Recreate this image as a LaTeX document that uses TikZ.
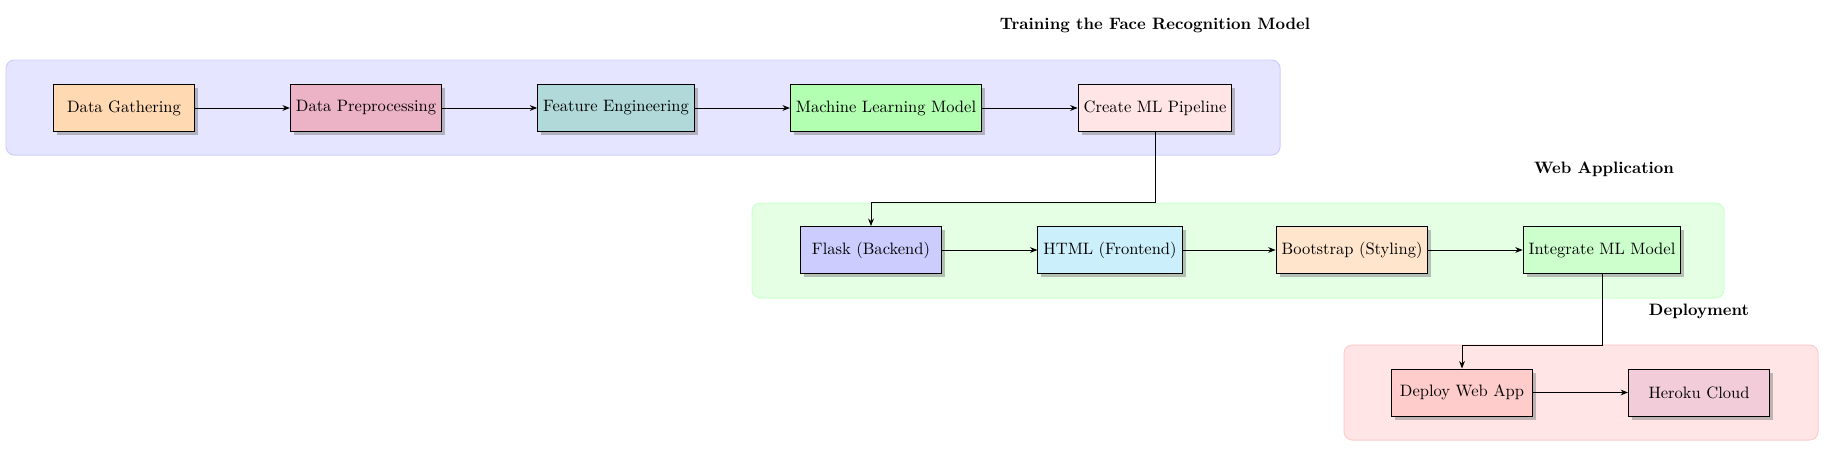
\documentclass[tikz,border=0pt]{standalone}
\usetikzlibrary{shadows,arrows.meta}
\begin{document}
\begin{tikzpicture}[x=0.6053pt,y=-0.6053pt,
  box/.style={draw=black,semithick,minimum width=3cm,minimum height=1cm,inner sep=3.33pt,drop shadow,font=\normalsize},
  conn/.style={semithick,-{Stealth[length=4.5pt,width=3.5pt]}},
  grp/.style={rounded corners=5pt,line width=0.6pt},
  ttl/.style={font=\bfseries}]
\useasboundingbox (0,0) rectangle (1830,450);
% groups
\draw[grp,draw=blue!20,fill=blue!10] (6,60) rectangle (1280,155);
\draw[grp,draw=green!20,fill=green!10] (752,203) rectangle (1724,298);
\draw[grp,draw=red!20,fill=red!10] (1344,345) rectangle (1818,440);
% titles
\node[ttl] (t1) at (1155,25) {Training the Face Recognition Model};
\node[ttl] (t2) at (1604,169) {Web Application};
\node[ttl] (t3) at (1699,311) {Deployment};
% row 1
\node[box,fill=orange!30] (dg) at (124,108) {Data Gathering};
\node[box,fill=purple!30] (dp) at (366,108) {Data Preprocessing};
\node[box,fill=teal!30] (fe) at (616,108) {Feature Engineering};
\node[box,fill=green!30] (ml) at (886,108) {Machine Learning Model};
\node[box,fill=red!10] (pipe) at (1155,108) {Create ML Pipeline};
% row 2
\node[box,fill=blue!20] (flask) at (871,250) {Flask (Backend)};
\node[box,fill=cyan!20] (html) at (1110,250) {HTML (Frontend)};
\node[box,fill=orange!20] (boot) at (1352,250) {Bootstrap (Styling)};
\node[box,fill=green!20] (integ) at (1602,250) {Integrate ML Model};
% row 3
\node[box,fill=red!20] (deploy) at (1462,392.5) {Deploy Web App};
\node[box,fill=purple!20] (heroku) at (1699,392.5) {Heroku Cloud};
% connectors
\draw[conn] (dg) -- (dp);
\draw[conn] (dp) -- (fe);
\draw[conn] (fe) -- (ml);
\draw[conn] (ml) -- (pipe);
\draw[conn] (pipe.south) -- (pipe.south |- 0,202) -- (flask.north |- 0,202) -- (flask.north);
\draw[conn] (flask) -- (html);
\draw[conn] (html) -- (boot);
\draw[conn] (boot) -- (integ);
\draw[conn] (integ.south) -- (integ.south |- 0,345) -- (deploy.north |- 0,345) -- (deploy.north);
\draw[conn] (deploy) -- (heroku);
\end{tikzpicture}
\end{document}
